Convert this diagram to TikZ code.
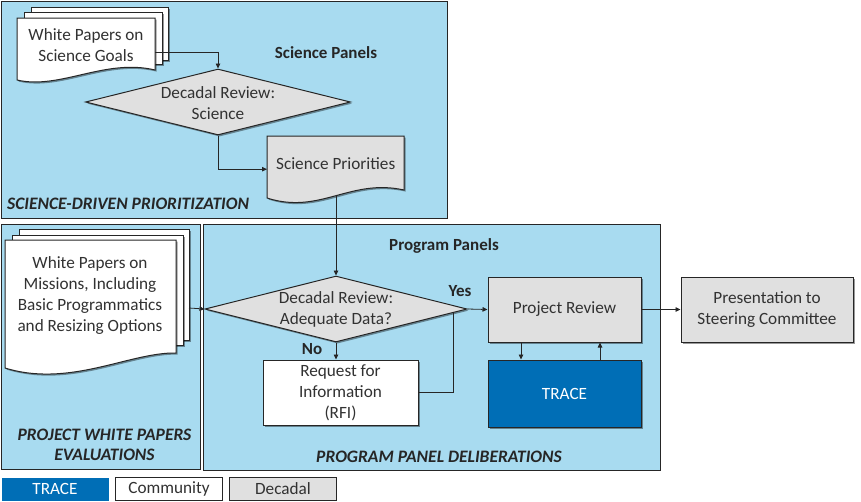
\documentclass[tikz,border=0pt]{standalone}
\usepackage{fontspec}
\setmainfont{Carlito}
\usetikzlibrary{shadows,arrows.meta,calc,shapes.geometric}
\definecolor{panelblue}{RGB}{168,219,240}
\definecolor{decgray}{RGB}{224,224,224}
\definecolor{traceblue}{RGB}{0,110,182}
\definecolor{txtgray}{RGB}{50,50,50}
\definecolor{edge}{RGB}{38,38,38}
\begin{document}
\begin{tikzpicture}[x=1pt,y=-1pt,
  panel/.style={draw=edge, line width=1pt, fill=panelblue},
  shad/.style={drop shadow={shadow xshift=1.6pt,shadow yshift=-1.6pt,opacity=0.4,fill=black}},
  mainfont/.style={font=\fontsize{17.2}{21}\selectfont},
  txt/.style={mainfont, text=txtgray, align=center, inner sep=0},
  decbox/.style={draw=edge, line width=1pt, fill=decgray, shad, txt},
  combox/.style={draw=edge, line width=1pt, fill=white, shad, txt},
  trbox/.style={draw=edge, line width=1pt, fill=traceblue, shad, txt, text=white},
  dia/.style={diamond, draw=edge, line width=1pt, fill=decgray, shad, inner sep=0},
  sheetw/.style={draw=edge, line width=1pt, fill=white, shad},
  sheetg/.style={draw=edge, line width=1pt, fill=decgray, shad},
  frame/.style={inner sep=0, anchor=north west},
  title/.style={font=\fontsize{17}{20}\selectfont\bfseries, text=edge, inner sep=0},
  ititle/.style={font=\fontsize{17.5}{20.5}\selectfont\bfseries\itshape, text=edge, inner sep=0, align=center},
  conn/.style={draw=edge, line width=0.8pt},
  arr/.style={conn, -{Triangle[length=5pt,width=4.5pt]}},
  legbox/.style={minimum width=107pt, minimum height=23pt, inner sep=0, mainfont, anchor=north west, line width=1pt}
]
\useasboundingbox (0,0) rectangle (861,501);

% panels
\draw[panel] (1,1) rectangle (447,218);
\draw[panel] (1,224) rectangle (200,469);
\draw[panel] (203,224) rectangle (660,470);

% panel titles
\node[title] (tsp) at (326,53) {Science Panels};
\node[title] (tpp) at (444,246) {Program Panels};
\node[ititle, anchor=west] (tsdp) at (7,204) {SCIENCE-DRIVEN PRIORITIZATION};
\node[ititle] (tpwp) at (104.5,445) {PROJECT WHITE PAPERS\\EVALUATIONS};
\node[ititle] (tppd) at (439,457) {PROGRAM PANEL DELIBERATIONS};

% white papers on science goals (multi-document)
\draw[sheetw] (31,7) rectangle (168,60);
\draw[sheetw] (24,12) rectangle (162,64);
\draw[sheetw] (17,18) -- (155,18) -- (155,70) .. controls (105,58) and (60,90) .. (17,80) -- cycle;
\node[frame, minimum width=138pt, minimum height=54pt] (wpsg) at (17,18) {};
\node[txt] (wpsgt) at (86,45) {White Papers on\\Science Goals};
\coordinate (wpsgout) at (155,52);

% decadal review: science
\node[dia, minimum width=265pt, minimum height=66pt] (d1) at (218,102) {};
\node[txt] (d1t) at (218,103) {Decadal Review:\\Science};

% science priorities (document)
\draw[sheetg] (267,136) -- (404,136) -- (404,190) .. controls (350,178) and (320,215) .. (267,198) -- cycle;
\node[frame, minimum width=137pt, minimum height=54pt] (sp) at (267,136) {};
\node[txt] (spt) at (sp.center) {Science Priorities};
\coordinate (spbot) at (336,196);

% white papers on missions (multi-document)
\draw[sheetw] (19,229) rectangle (189,340);
\draw[sheetw] (12,235) rectangle (183,345);
\draw[sheetw] (5,240) -- (176,240) -- (176,353) .. controls (130,352) and (70,388) .. (5,368) -- cycle;
\node[frame, minimum width=171pt, minimum height=110pt] (wpm) at (5,240) {};
\node[txt] (wpmt) at (90,295) {White Papers on\\Missions, Including\\Basic Programmatics\\and Resizing Options};
\coordinate (wpmout) at (189,308);

% decadal review: adequate data?
\node[dia, minimum width=262pt, minimum height=66pt] (d2) at (336,309) {};
\node[txt] (d2t) at (336,309.5) {Decadal Review:\\Adequate Data?};

% RFI
\node[combox, minimum width=155pt, minimum height=65pt] (rfi) at (340.5,392.5) {Request for\\Information\\(RFI)};

% project review, TRACE, presentation
\node[decbox, minimum width=153pt, minimum height=65pt] (pr) at (564.5,309.5) {Project Review};
\node[trbox, minimum width=153pt, minimum height=67pt] (trace) at (564.5,393.5) {TRACE};
\node[decbox, minimum width=172pt, minimum height=65pt] (pres) at (767,309.5) {Presentation to\\Steering Committee};

% labels
\node[title] (yes) at (460,291) {Yes};
\node[title] (no) at (312,349) {No};

% connectors
\draw[arr] (wpsgout) -| (d1.north);
\draw[arr] (d1.south) |- ([yshift=-6pt]sp.west);
\draw[arr] (spbot) -- (d2.north);
\draw[arr] (wpmout) -- (d2.west);
\draw[arr] (d2.south) -- (d2.south |- rfi.north);
\coordinate (d2r) at ($(d2.east)!0.107!(d2.south)$);
\draw[conn] (rfi.east) -| (d2r);
\draw[arr] (d2.east) -- (pr.west);
\draw[arr] (pr.east) -- (pres.west);
\draw[arr] ([xshift=-43.5pt]pr.south) -- ([xshift=-43.5pt]trace.north);
\draw[arr] ([xshift=35.5pt]trace.north) -- ([xshift=35.5pt]pr.south);

% legend
\node[legbox, fill=traceblue, text=white] (lgt) at (1,477) {TRACE};
\node[legbox, draw=edge, fill=white, text=txtgray] (lgc) at (115,477) {Community};
\node[legbox, draw=edge, fill=decgray, text=txtgray] (lgd) at (229,477) {Decadal};
\end{tikzpicture}
\end{document}
